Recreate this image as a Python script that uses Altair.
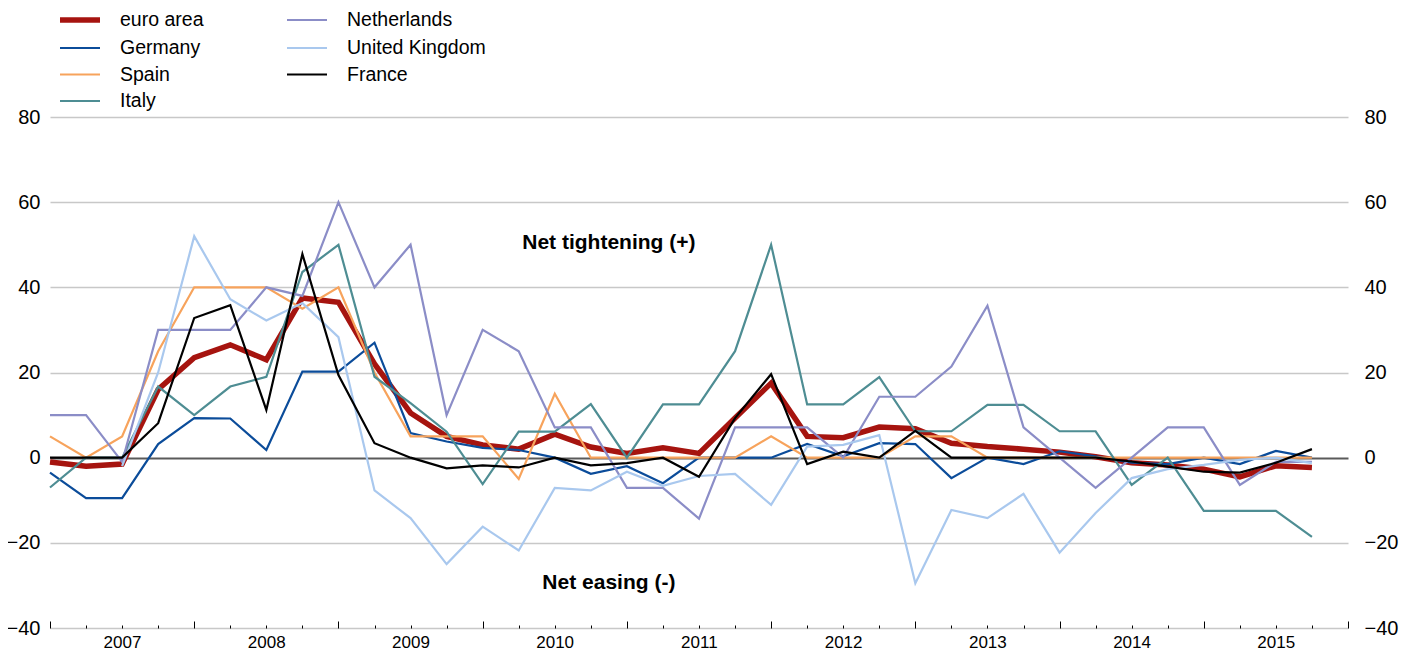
import altair as alt
import pandas as pd

FONT = "Liberation Sans"

quarters = list(range(36))  # 2007 Q1 ... 2015 Q4
series_names = ["euro area", "Germany", "Spain", "Italy", "Netherlands", "United Kingdom", "France"]

euro_area = [-1, -2, -1.5, 16, 23.5, 26.5, 23, 37.5, 36.5, 22, 10.5, 5, 3, 2, 5.5, 2.5, 1, 2.3, 1, 9.3,
             17.5, 5, 4.7, 7.2, 6.8, 3.4, 2.6, 2, 1.3, 0.2, -1.2, -1.7, -2.7, -4.5, -1.9, -2.3]
germany = [-3.5, -9.5, -9.5, 3.2, 9.3, 9.2, 1.8, 20.2, 20.2, 27, 5.8, 3.8, 2.3, 1.8, 0, -3.8, -2, -6, 0, 0,
           0, 3.2, 0.3, 3.4, 3.2, -4.8, 0, -1.5, 1.5, 0.3, -1.2, -1.5, 0, -1.5, 1.6, 0]
spain = [5, 0, 5, 25, 40, 40, 40, 35, 40, 20, 5, 5, 5, -5, 15, 0, 0, 0, 0, 0,
         5, 0, 0, 0, 5, 5, 0, 0, 0, 0, 0, 0, 0, 0, 0, 0]
italy = [-7, 0, 0, 16.7, 10, 16.7, 19, 43.6, 50, 19, 12.8, 6.1, -6.2, 6.1, 6.1, 12.6, 0, 12.5, 12.5, 25,
         50, 12.5, 12.5, 18.9, 6.2, 6.2, 12.4, 12.4, 6.2, 6.2, -6.4, 0, -12.5, -12.5, -12.5, -18.6]
netherlands = [10, 10, -1, 30, 30, 30, 40, 38, 60, 40, 50, 10, 30, 25, 7.1, 7.1, -7.1, -7.1, -14.3, 7.1,
               7.1, 7.1, 0, 14.3, 14.3, 21.4, 35.7, 7.1, 0, -7.1, 0, 7.1, 7.1, -6.4, -1, -1]
united_kingdom = [None, None, -2, 20, 52, 37.2, 32.2, 36.3, 28.3, -7.7, -14.2, -25, -16.2, -21.8, -7.1, -7.7,
                  -3.3, -6.6, -4.3, -3.8, -11.1, 2.6, 3, 5.3, -29.5, -12.3, -14.2, -8.5, -22.3, -13, -4.8,
                  -2.7, -1.7, -0.5, 0, -1.3]
france = [0, 0, 0, 8.1, 32.8, 35.8, 11.2, 47.8, 19.4, 3.4, 0, -2.5, -1.8, -2.3, 0, -1.8, -1.3, 0, -4.5, 9.3,
          19.6, -1.5, 1.4, 0, 6.3, 0, 0, 0, 0, 0, -0.9, -2.1, -3.3, -3.5, -1.2, 2]

all_series = [euro_area, germany, spain, italy, netherlands, united_kingdom, france]

series_colors = ["#a6140f", "#0b4c9a", "#f7a35c", "#4e8d93", "#8b8dc7", "#a9c8ee", "#000000"]
series_widths = [5.5, 2.2, 2.2, 2.2, 2.2, 2.2, 2.2]

annotation_text = ["Net tightening (+)", "Net easing (-)"]
annotation_q = [15.5, 15.5]
annotation_v = [50.5, -29.5]

y_ticks = [-40, -20, 0, 20, 40, 60, 80]

rows = []
for name, vals in zip(series_names, all_series):
    for q, v in zip(quarters, vals):
        rows.append({"country": name, "q": q, "value": v})
df = pd.DataFrame(rows)

ann_df = pd.DataFrame({"label": annotation_text, "q": annotation_q, "value": annotation_v})

x_scale = alt.Scale(domain=[0, 36], nice=False, zero=False)
y_scale = alt.Scale(domain=[-40, 80], nice=False, zero=False)

lines = alt.Chart(df).mark_line(clip=False).encode(
    x=alt.X("q:Q", scale=x_scale, axis=alt.Axis(
        values=list(range(0, 36, 4)),
        labelExpr="'' + (2007 + datum.value / 4)",
        labelOffset=72, ticks=False, tickSize=0, domain=False, grid=False,
        labelPadding=6, labelFontSize=17, labelColor="#000000", labelFont=FONT,
        labelFlush=False, labelOverlap=False, labelBaseline="top", title=None)),
    y=alt.Y("value:Q", scale=y_scale, axis=alt.Axis(
        values=y_ticks, grid=True,
        gridColor={"condition": {"test": "datum.value === 0", "value": "#5a5a5a"}, "value": "#c8c8c8"},
        gridWidth={"condition": {"test": "datum.value === 0", "value": 2}, "value": 1.5},
        ticks=False, domain=False, labelPadding=10, labelFontSize=20, labelColor="#000000",
        labelFont=FONT, title=None)),
    color=alt.Color("country:N", sort=series_names,
                    scale=alt.Scale(domain=series_names, range=series_colors),
                    legend=alt.Legend(
                        title=None, orient="none", legendX=17, legendY=-110, columns=2,
                        symbolType="M-2,0H2", symbolSize=400, labelOffset=27,
                        columnPadding=78, rowPadding=5.5, padding=0,
                        labelFontSize=19.5, labelFont=FONT, labelColor="#000000",
                        symbolStrokeWidth=2.5)),
    strokeWidth=alt.StrokeWidth("country:N", sort=series_names,
                                scale=alt.Scale(type="ordinal", domain=series_names, range=series_widths),
                                legend=None),
    detail="country:N",
)

notes = alt.Chart(ann_df).mark_text(fontSize=21, fontWeight="bold", font=FONT, color="#000000").encode(
    x=alt.X("q:Q", scale=x_scale, axis=alt.Axis(
        orient="top", offset=-511, values=list(range(0, 37)), labels=False, domain=False, grid=False,
        tickColor="#000000", tickWidth=1,
        tickSize={"condition": {"test": "datum.value % 4 === 0", "value": 7}, "value": 3},
        title=None)),
    y=alt.Y("value:Q", scale=y_scale, axis=alt.Axis(
        orient="right", values=y_ticks, grid=False, ticks=False, domain=False,
        labelPadding=16, labelFontSize=20, labelColor="#000000", labelFont=FONT, title=None)),
    text="label:N",
)

chart = alt.layer(lines, notes).resolve_axis(x="independent", y="independent").properties(
    width=1298, height=511,
    autosize=alt.AutoSizeParams(type="none"),
    padding={"left": 42, "top": 109, "right": 51, "bottom": 30},
).configure_view(stroke=None)

chart.save("out.html", embed_options={"renderer": "svg", "actions": False})
